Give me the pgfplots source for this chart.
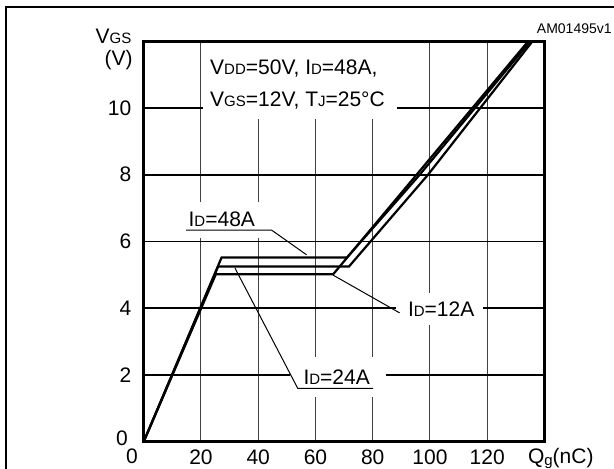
\documentclass[border=0pt]{standalone}
\usepackage{pgfplots}
\pgfplotsset{compat=1.18}
\usepackage{fontspec}
\setmainfont{Liberation Sans}
\newcommand{\sm}[1]{{\fontsize{7.5}{8.5}\selectfont #1}}
\begin{document}
\fontsize{10.5}{12.5}\selectfont
\begin{tikzpicture}
\useasboundingbox (0,0) rectangle (307pt,234.5pt);
\draw[line width=1.1pt] (3pt,0) -- (3pt,231pt) -- (310pt,231pt);
\begin{axis}[
  at={(71.85pt,13.65pt)}, anchor=south west,
  scale only axis, width=200.4pt, height=200.2pt,
  xmin=0, xmax=140, ymin=0, ymax=12,
  xtick={20,40,...,120}, ytick={2,4,...,10},
  grid=major,
  every axis x grid/.style={line width=0.5pt, black!75},
  every axis y grid/.style={line width=0.75pt, black},
  major tick length=0pt,
  axis line style={line width=1.3pt},
  xticklabel style={inner sep=0pt, yshift=-4pt},
  yticklabel style={inner sep=0pt, xshift=-6pt},
  /pgf/number format/assume math mode=true,
  clip=false,
]
% white boxes behind labels (cut the grid)
\fill[white] (axis cs:20.6,9.67) rectangle (axis cs:88.5,11.95);
\fill[white] (axis cs:14,6.10) rectangle (axis cs:41.5,7.18);
\fill[white] (axis cs:88.3,3.50) rectangle (axis cs:118.4,4.46);
\fill[white] (axis cs:51.1,1.33) rectangle (axis cs:84.8,2.55);
% data: I_D = 12A, 48A, 24A
\addplot[line width=1.1pt, black] coordinates {(0,0) (25.2,5.02) (66.2,5.02) (95.3,8.0) (134.3,12)};
\addplot[line width=1.1pt, black] coordinates {(0,0) (27.2,5.52) (71.0,5.52) (96.4,8.0) (135.0,12)};
\addplot[line width=1.1pt, black] coordinates {(0,0) (26.0,5.25) (71.7,5.25) (99.3,8.0) (135.8,12)};
% leaders
\draw[line width=0.5pt] (axis cs:14.8,6.34) -- (axis cs:44.7,6.34) -- (axis cs:56.9,5.60);
\draw[line width=0.5pt] (axis cs:66.2,4.99) -- (axis cs:89.4,3.86);
\draw[line width=0.5pt] (axis cs:31.9,5.20) -- (axis cs:53.8,1.60) -- (axis cs:80.1,1.60);
% texts
\node[anchor=base west, inner sep=0pt] at (axis cs:23.1,10.99) {V\sm{DD}=50V, I\sm{D}=48A,};
\node[anchor=base west, inner sep=0pt] at (axis cs:23.1,10.06) {V\sm{GS}=12V, T\sm{J}=25°C};
\node[anchor=base west, inner sep=0pt] at (axis cs:15.56,6.44) {I\sm{D}=48A};
\node[anchor=base west, inner sep=0pt] at (axis cs:92.2,3.75) {I\sm{D}=12A};
\node[anchor=base west, inner sep=0pt] at (axis cs:55.7,1.70) {I\sm{D}=24A};
\node[inner sep=0pt] at (axis cs:-7.57,0.11) {0};
\node[inner sep=0pt] at (axis cs:-4.08,-0.43) {0};
\node[anchor=base west, inner sep=0pt] at (axis cs:134.1,-0.64) {Q\raisebox{-1pt}{\sm{g}}(nC)};
\node[anchor=base east, inner sep=0pt] at (axis cs:-4.19,11.94) {V\sm{GS}};
\node[anchor=base east, inner sep=0pt] at (axis cs:-3.73,11.26) {(V)};
\node[anchor=base east, inner sep=0pt, font=\fontsize{7}{8}\selectfont] at (axis cs:163.6,12.24) {AM01495v1};
\end{axis}
\end{tikzpicture}
\end{document}
